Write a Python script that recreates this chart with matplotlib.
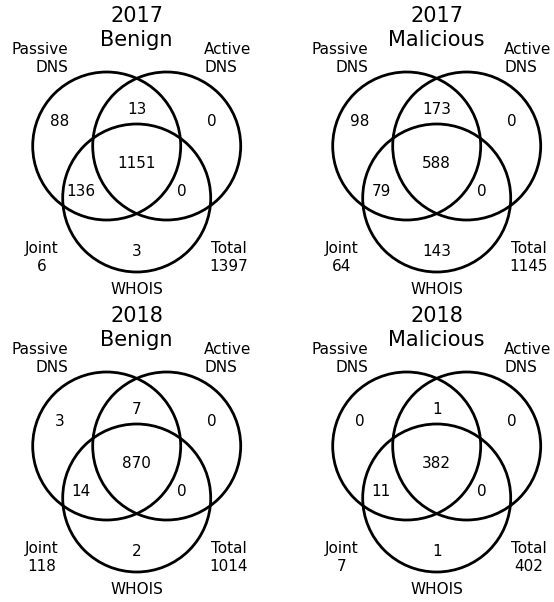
import matplotlib
matplotlib.use("Agg")
import matplotlib.pyplot as plt
from matplotlib.patches import Circle

plt.rcParams['font.family'] = ['DejaVu Sans']

# ---- data ----
years = ["2017", "2017", "2018", "2018"]
classes = ["Benign", "Malicious", "Benign", "Malicious"]
# region order: Passive only, Active only, Passive&Active, WHOIS only,
#               Passive&WHOIS, Active&WHOIS, all three
passive_only = [88, 98, 3, 0]
active_only = [0, 0, 0, 0]
passive_active = [13, 173, 7, 1]
whois_only = [3, 143, 2, 1]
passive_whois = [136, 79, 14, 11]
active_whois = [0, 0, 0, 0]
all_three = [1151, 588, 870, 382]
joint = [6, 64, 118, 7]
total = [1397, 1145, 1014, 402]
set_names = ["Passive\nDNS", "Active\nDNS", "WHOIS"]

# ---- layout (pixels) ----
W, H = 554, 602
fig = plt.figure(figsize=(W / 100, H / 100), dpi=100)
ax = fig.add_axes([0, 0, 1, 1])
ax.set_xlim(0, W)
ax.set_ylim(H, 0)
ax.axis("off")

offsets = [(0, 0), (300, 0), (0, 300), (300, 300)]
r = 74
cx, half = 136.7, 30
cy_top, cy_bot = 146, 198

for i, (ox, oy) in enumerate(offsets):
    centers = [(cx - half, cy_top), (cx + half, cy_top), (cx, cy_bot)]
    for (x, y) in centers:
        ax.add_patch(Circle((ox + x, oy + y), r, fill=False,
                            edgecolor="black", lw=2))
    ax.text(ox + cx, oy + 28, f"{years[i]}\n{classes[i]}", ha="center",
            va="center", fontsize=15)
    ax.text(ox + 68, oy + 58.5, set_names[0], ha="right", va="center",
            multialignment="right", fontsize=11)
    ax.text(ox + 204, oy + 58.5, set_names[1], ha="left", va="center",
            multialignment="left", fontsize=11)
    ax.text(ox + cx, oy + 289, set_names[2], ha="center", va="center",
            fontsize=11)
    ax.text(ox + 42, oy + 257.5, f"Joint\n{joint[i]}", ha="center",
            va="center", multialignment="center", fontsize=11)
    ax.text(ox + 229, oy + 257.5, f"Total\n{total[i]}", ha="center",
            va="center", multialignment="center", fontsize=11)
    regions = [
        (passive_only[i], 60, 121),
        (passive_active[i], cx, 110),
        (active_only[i], 211.7, 121),
        (all_three[i], cx, 164),
        (passive_whois[i], 81, 192),
        (active_whois[i], 182.3, 192),
        (whois_only[i], cx, 252),
    ]
    for val, x, y in regions:
        ax.text(ox + x, oy + y, str(val), ha="center", va="center",
                fontsize=11)

fig.savefig("out.png", dpi=100)
